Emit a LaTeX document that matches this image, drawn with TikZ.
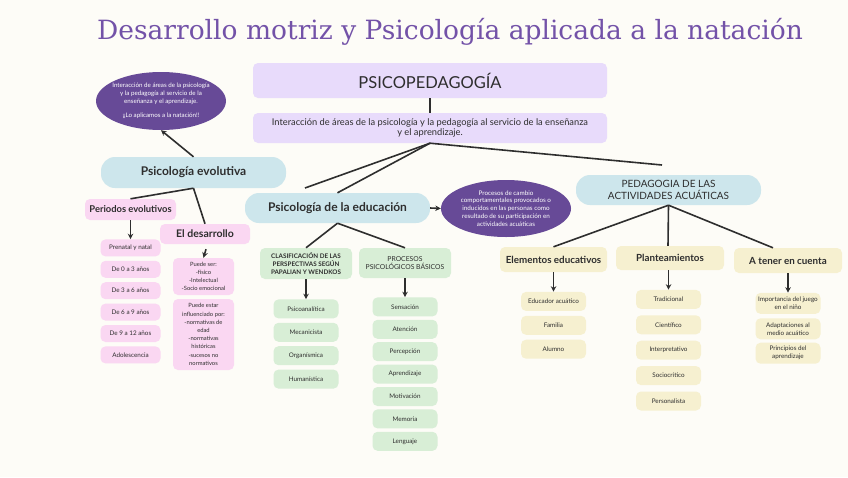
\documentclass[tikz,border=0pt]{standalone}
\usepackage{fontspec}
\setmainfont{Lato}
\newfontfamily\titlefont{DejaVu Serif}
\usepackage{tikz}
\usetikzlibrary{arrows.meta,positioning,shapes.geometric}

\definecolor{paper}{HTML}{FDFCF7}
\definecolor{ink}{HTML}{2E2E2E}
\definecolor{titlepurple}{HTML}{7352A8}
\definecolor{lavender}{HTML}{E8DBFB}
\definecolor{plum}{HTML}{674A97}
\definecolor{sky}{HTML}{CDE6EC}
\definecolor{rosa}{HTML}{FAD7F2}
\definecolor{mint}{HTML}{D8EED6}
\definecolor{sand}{HTML}{F6F0D0}

\begin{document}
\begin{tikzpicture}[
  x=1pt, y=-1pt,
  font=\fontsize{7}{8}\selectfont,
  base/.style={rounded corners=5pt, align=center, inner sep=2pt, text=ink},
  lav/.style={base, fill=lavender},
  pill/.style={base, fill=sky, rounded corners=14pt},
  pinkbox/.style={base, fill=rosa},
  greenbox/.style={base, fill=mint},
  sandbox/.style={base, fill=sand},
  item/.style={minimum width=65pt, minimum height=19pt, font=\fontsize{6.3}{8}\selectfont},
  blob/.style={ellipse, fill=plum, text=white, align=center, inner sep=-4pt,
    minimum width=130pt, minimum height=58pt, font=\fontsize{6.2}{8}\selectfont},
  arr/.style={-{Stealth[length=5.5pt,width=5.5pt]}, line width=1.6pt, draw=ink},
  link/.style={line width=1.6pt, draw=ink}
]
\useasboundingbox[fill=paper] (0,0) rectangle (848,477);

\node[text=titlepurple, font=\titlefont\fontsize{26.5}{30}\selectfont] (title) at (450,32)
  {Desarrollo motriz y Psicología aplicada a la natación};

% top
\node[lav, minimum width=354pt, minimum height=35pt, font=\fontsize{16.5}{18}\selectfont] (psico) at (430,80.5) {PSICOPEDAGOGÍA};
\node[lav, minimum width=354pt, minimum height=30pt, font=\fontsize{9.3}{10.5}\selectfont] (inter) at (430,128)
  {Interacción de áreas de la psicología y la pedagogía al servicio de la enseñanza\\ y el aprendizaje.};
\draw[link] (psico) -- (inter);

% branches
\node[pill, minimum width=185pt, minimum height=31pt, font=\fontsize{12}{14}\selectfont\bfseries] (evo) at (193.5,172.5) {Psicología evolutiva};
\node[pill, minimum width=185pt, minimum height=30pt, font=\fontsize{12}{14}\selectfont\bfseries] (edu) at (337.5,208) {Psicología de la educación};
\node[pill, minimum width=185pt, minimum height=30pt, font=\fontsize{10}{11.5}\selectfont] (ped) at (668.5,190) {PEDAGOGIA DE LAS\\ ACTIVIDADES ACUÁTICAS};
\coordinate (evoend) at (305,188);
\coordinate (pedend) at (662,165);
\draw[link] (inter.south) -- (evoend);
\draw[link] (inter.south) -- (edu.north);
\draw[link] (inter.south) -- (pedend);

% ellipses
\node[blob] (blobA) at (161,101) {Interacción de áreas de la psicología\\ y la pedagogía al servicio de la\\ enseñanza y el aprendizaje.\\[6pt] ¡¡Lo aplicamos a la natación!!};
\node[blob, minimum height=57pt, font=\fontsize{6.3}{7.8}\selectfont] (blobB) at (506,208.5) {Procesos de cambio\\ comportamentales provocados o\\ inducidos en las personas como\\ resultado de su participación en\\ actividades acuáticas};
\draw[arr] (evo.north) -- (blobA.south);
\draw[arr] (edu.east) -- (blobB.west);

% psicologia evolutiva
\node[pinkbox, minimum width=91pt, minimum height=21pt, font=\fontsize{9.4}{11}\selectfont\bfseries] (per) at (130.5,209.5) {Periodos evolutivos};
\node[pinkbox, minimum width=90pt, minimum height=20pt, font=\fontsize{10.5}{12}\selectfont\bfseries] (des) at (205,234) {El desarrollo};
\draw[link] (evo.south) -- (per.north);
\draw[link] (evo.south) -- (des.north);

\node[pinkbox, item, minimum width=60pt, minimum height=17pt, below=19pt of per] (p1) {Prenatal y natal};
\node[pinkbox, item, minimum width=60pt, minimum height=17pt, below=4pt of p1] (p2) {De 0 a 3 años};
\node[pinkbox, item, minimum width=60pt, minimum height=17pt, below=4pt of p2] (p3) {De 3 a 6 años};
\node[pinkbox, item, minimum width=60pt, minimum height=17pt, below=4pt of p3] (p4) {De 6 a 9 años};
\node[pinkbox, item, minimum width=60pt, minimum height=17pt, below=4pt of p4] (p5) {De 9 a 12 años};
\node[pinkbox, item, minimum width=60pt, minimum height=17pt, below=4pt of p5] (p6) {Adolescencia};
\draw[arr] (per.south) -- (p1.north);

\node[pinkbox, item, minimum width=61pt, minimum height=37pt, font=\fontsize{5.8}{8}\selectfont] (pser) at (203.5,276.5)
  {Puede ser:\\ -físico\\ -Intelectual\\ -Socio emocional};
\node[pinkbox, item, minimum width=61pt, minimum height=71pt, font=\fontsize{5.8}{8.2}\selectfont] (pest) at (203.5,334.5)
  {Puede estar\\ influenciado por:\\ -normativas de\\ edad\\ -normativas\\ históricas\\ -sucesos no\\ normativos};
\draw[arr] ([xshift=1pt,yshift=-5pt]des.south) -- (pser.north);

% psicologia de la educacion
\node[greenbox, minimum width=92pt, minimum height=31pt, font=\fontsize{6.3}{7.6}\selectfont\bfseries] (clas) at (306,263.5)
  {CLASIFICACIÓN DE LAS\\ PERSPECTIVAS SEGÚN\\ PAPALIAN Y WENDKOS};
\node[greenbox, minimum width=92pt, minimum height=30pt, font=\fontsize{6.8}{8}\selectfont] (proc) at (405,263)
  {PROCESOS\\ PSICOLÓGICOS BÁSICOS};
\draw[link] (edu.south) -- (clas.north);
\draw[link] (edu.south) -- (proc.north);

\node[greenbox, item, below=20pt of clas] (g1) {Psicoanalítica};
\node[greenbox, item, below=4pt of g1] (g2) {Mecanicista};
\node[greenbox, item, below=4pt of g2] (g3) {Organísmica};
\node[greenbox, item, below=4pt of g3] (g4) {Humanística};
\draw[arr] (clas.south) -- (g1.north);

\node[greenbox, item, below=19pt of proc] (s1) {Sensación};
\node[greenbox, item, below=3pt of s1] (s2) {Atención};
\node[greenbox, item, below=3pt of s2] (s3) {Percepción};
\node[greenbox, item, below=3pt of s3] (s4) {Aprendizaje};
\node[greenbox, item, below=3pt of s4] (s5) {Motivación};
\node[greenbox, item, below=3pt of s5] (s6) {Memoria};
\node[greenbox, item, below=3pt of s6] (s7) {Lenguaje};
\draw[arr] (proc.south) -- (s1.north);

% pedagogia de las actividades acuaticas
\node[sandbox, minimum width=107pt, minimum height=25pt, font=\fontsize{9.8}{11}\selectfont\bfseries] (elem) at (553.5,259.5) {Elementos educativos};
\node[sandbox, minimum width=108pt, minimum height=24pt, font=\fontsize{9.8}{11}\selectfont\bfseries] (plan) at (670,258) {Planteamientos};
\node[sandbox, minimum width=108pt, minimum height=25pt, font=\fontsize{9.8}{11}\selectfont\bfseries] (tener) at (788,260.5) {A tener en cuenta};
\draw[link] (ped.south) -- (elem.north);
\draw[link] (ped.south) -- ([xshift=-2pt]plan.north);
\draw[link] (ped.south) -- ([xshift=-15pt]tener.north);

\node[sandbox, item, below=19.5pt of elem] (e1) {Educador acuático};
\node[sandbox, item, below=4.5pt of e1] (e2) {Familia};
\node[sandbox, item, below=4.5pt of e2] (e3) {Alumno};
\draw[arr] (elem.south) -- (e1.north);

\node[sandbox, item, below=19.5pt of plan, xshift=-1.5pt] (t1) {Tradicional};
\node[sandbox, item, below=6pt of t1] (t2) {Científico};
\node[sandbox, item, below=6pt of t2] (t3) {Interpretativo};
\node[sandbox, item, below=6pt of t3] (t4) {Sociocrítico};
\node[sandbox, item, below=6pt of t4] (t5) {Personalista};
\draw[arr] ([xshift=-1.5pt]plan.south) -- (t1.north);

\node[sandbox, item, minimum height=21pt, below=19.5pt of tener] (c1) {Importancia del juego\\ en el niño};
\node[sandbox, item, minimum height=21pt, below=4pt of c1] (c2) {Adaptaciones al\\ medio acuático};
\node[sandbox, item, minimum height=21pt, below=3pt of c2] (c3) {Principios del\\ aprendizaje};
\draw[arr] (tener.south) -- (c1.north);
\end{tikzpicture}
\end{document}
